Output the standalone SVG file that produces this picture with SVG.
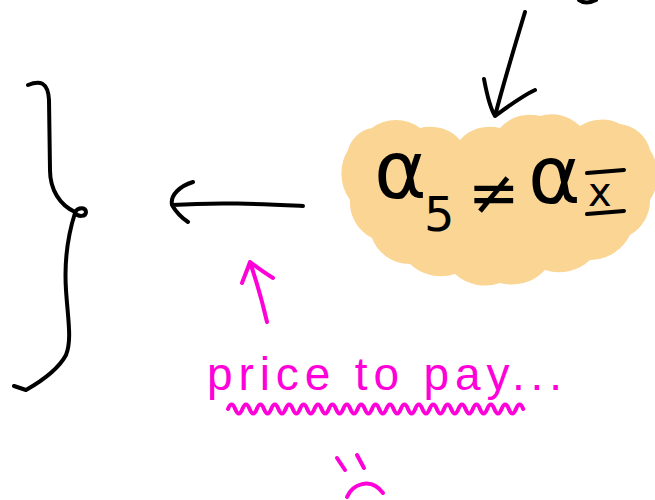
<svg xmlns="http://www.w3.org/2000/svg" width="655" height="500" viewBox="0 0 655 500">
<style>
.ink{fill:none;stroke:#000;stroke-width:4;stroke-linecap:round;stroke-linejoin:round}
.pink{fill:none;stroke:#FF00D8;stroke-width:4;stroke-linecap:round;stroke-linejoin:round}
.m{font-family:"DejaVu Sans","Liberation Sans",sans-serif;fill:#000}
.hand{font-family:"Liberation Sans",Arial,sans-serif;fill:#FF00D8}
</style>
<rect width="655" height="500" fill="#fff"/>
<g id="brace">
<path class="ink" d="M28,85 C40,80 48,82 49,100 L50,170 C50,190 60,205 75,212 C78,207 86,207 86,212 C86,217 78,217 75,213 C68,235 64,260 66,290 C68,320 72,340 66,355 C58,370 40,382 26,390 L14,386"/>
</g>
<g id="cloud">
<path fill="#FAD594" stroke="none" d="M348,150 A30,30 0 0 1 372,128 A40,40 0 0 1 420,128 A40,40 0 0 1 460,140 A40,40 0 0 1 500,128 A40,40 0 0 1 540,116 A40,40 0 0 1 580,126 A40,40 0 0 1 620,124 A35,35 0 0 1 650,150 A45,45 0 0 1 650,200 A40,40 0 0 1 630,235 A45,45 0 0 1 590,260 A45,45 0 0 1 545,270 A45,45 0 0 1 500,283 A45,45 0 0 1 455,274 A45,45 0 0 1 410,264 A40,40 0 0 1 372,238 A40,40 0 0 1 350,200 A45,45 0 0 1 348,150 Z"/>
<text class="m" x="374" y="198" font-size="80">α</text>
<text class="m" x="424" y="231" font-size="48">5</text>
<text class="m" x="468" y="214" font-size="62">≠</text>
<text class="m" x="528" y="203" font-size="80">α</text>
<text class="m" x="588" y="206" font-size="40">x</text>
<path class="ink" d="M587,173 L624,170 M587,214 L624,211"/>
</g>
<g id="connectors">
<path class="ink" d="M525,12 C515,45 503,85 495,116 M484,79 C487,95 490,108 495,116 C510,105 522,96 535,90"/>
<path class="ink" d="M579,0 Q586,5 596,0"/>
<path class="ink" d="M303,206 C260,204 220,202 172,205 M193,182 C180,186 170,195 172,205 C176,212 182,218 188,222"/>
<path class="pink" d="M267,322 C262,300 256,280 250,262 M242,283 C245,275 248,268 250,262 C258,268 265,273 273,278"/>
</g>
<g id="note">
<text class="hand" x="207" y="390" font-size="46" textLength="355" lengthAdjust="spacing">price to pay...</text>
<path class="pink" d="M228,409 q3.6,-9 7.2,0 t7.2,0 t7.2,0 t7.2,0 t7.2,0 t7.2,0 t7.2,0 t7.2,0 t7.2,0 t7.2,0 t7.2,0 t7.2,0 t7.2,0 t7.2,0 t7.2,0 t7.2,0 t7.2,0 t7.2,0 t7.2,0 t7.2,0 t7.2,0 t7.2,0 t7.2,0 t7.2,0 t7.2,0 t7.2,0 t7.2,0 t7.2,0 t7.2,0 t7.2,0 t7.2,0 t7.2,0 t7.2,0 t7.2,0 t7.2,0 t7.2,0 t7.2,0 t7.2,0 t7.2,0 t7.2,0 t7.2,0"/>
<path class="pink" d="M337,458 L345,470 M357,455 L364,468 M347,497 C352,485 370,476 383,493"/>
</g>
</svg>
